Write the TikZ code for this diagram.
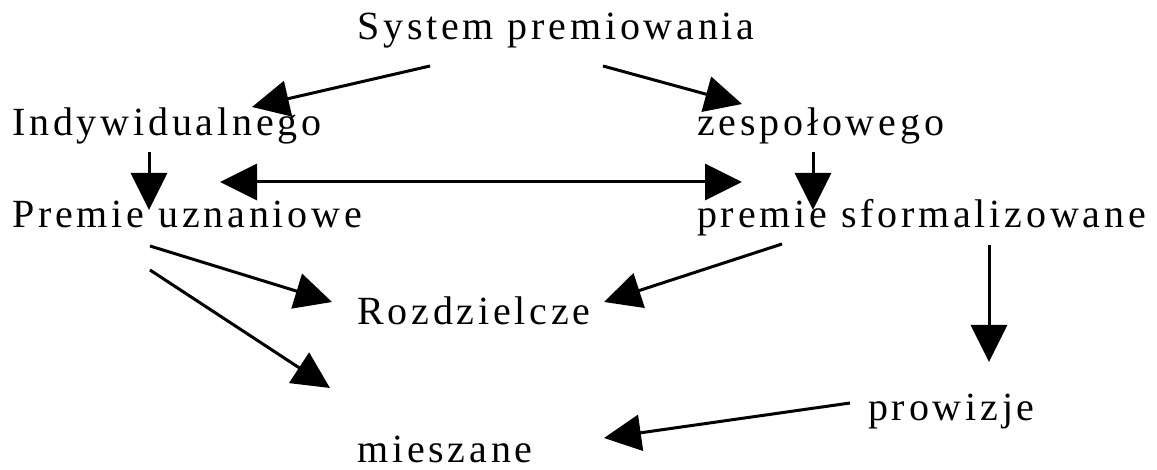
\documentclass[tikz,border=0pt]{standalone}
\usepackage{fontspec}
\setmainfont{Liberation Serif}[LetterSpace=9.5]
\usetikzlibrary{arrows.meta}
\begin{document}
\begin{tikzpicture}[x=1pt,y=-1pt,
  term/.style={anchor=base west, inner sep=0pt, font=\fontsize{40}{48}\selectfont},
  head/.tip={Triangle[length=37pt,width=36pt]},
  link/.style={line width=3pt, -head},
  twoway/.style={line width=3pt, head-head}]
\useasboundingbox (0,0) rectangle (1157,470);

% labels, placed by their baselines
\node[term] (sys) at (357,40)  {System premiowania};
\node[term] (ind) at (12,136)  {Indywidualnego};
\node[term] (zes) at (697,136) {zespołowego};
\node[term] (pu)  at (12,228)  {Premie uznaniowe};
\node[term] (psf) at (697,228) {premie sformalizowane};
\node[term] (roz) at (357,325) {Rozdzielcze};
\node[term] (pro) at (868,420) {prowizje};
\node[term] (mie) at (357,462) {mieszane};

% connectors
\draw[link] ([shift={(73,26)}]sys.base west) -- ([shift={(240,-29)}]ind.base west);
\draw[link] ([shift={(246,26)}]sys.base west) -- ([shift={(45,-32)}]zes.base west);
\draw[link] ([shift={(137,16)}]ind.base west) -- ([shift={(137,-18)}]pu.base west);
\draw[link] ([shift={(116,16)}]zes.base west) -- ([shift={(116,-18)}]psf.base west);
\draw[twoway] ([shift={(208,-46)}]pu.base west) -- ([shift={(45,-46)}]psf.base west);
\draw[link] ([shift={(138,18)}]pu.base west) -- ([shift={(-25,-23)}]roz.base west);
\draw[link] ([shift={(85,16)}]psf.base west) -- ([shift={(247,-23)}]roz.base west);
\draw[link] ([shift={(138,42)}]pu.base west) -- ([shift={(-27,-74)}]mie.base west);
\draw[link] ([shift={(292,17)}]psf.base west) -- ([shift={(121,-58)}]pro.base west);
\draw[link] ([shift={(-18,-17)}]pro.base west) -- ([shift={(247,-24)}]mie.base west);
\end{tikzpicture}
\end{document}
